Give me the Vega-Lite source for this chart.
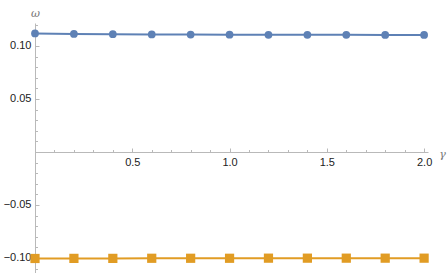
{
  "$schema": "https://vega.github.io/schema/vega-lite/v6.json",
  "width": 393,
  "height": 250,
  "autosize": {"type": "none"},
  "padding": {"left": 35, "top": 23, "right": 20, "bottom": 0},
  "background": "white",
  "config": {
    "view": {"stroke": null},
    "axis": {"labelFont": "Liberation Sans", "labelFontSize": 11, "labelColor": "#222", "domainColor": "#b9b9b9", "tickColor": "#b9b9b9", "grid": false, "titleFont": "DejaVu Serif", "titleFontStyle": "italic", "titleFontWeight": "normal", "titleColor": "#777", "titleFontSize": 11}
  },
  "data": {
    "values": [
      {"g": 0.0, "w": 0.1118, "s": "a"},
      {"g": 0.2, "w": 0.1114, "s": "a"},
      {"g": 0.4, "w": 0.1111, "s": "a"},
      {"g": 0.6, "w": 0.1109, "s": "a"},
      {"g": 0.8, "w": 0.1108, "s": "a"},
      {"g": 1.0, "w": 0.1107, "s": "a"},
      {"g": 1.2, "w": 0.1106, "s": "a"},
      {"g": 1.4, "w": 0.1105, "s": "a"},
      {"g": 1.6, "w": 0.1105, "s": "a"},
      {"g": 1.8, "w": 0.1104, "s": "a"},
      {"g": 2.0, "w": 0.1104, "s": "a"},
      {"g": 0.0, "w": -0.1005, "s": "b"},
      {"g": 0.2, "w": -0.1004, "s": "b"},
      {"g": 0.4, "w": -0.1004, "s": "b"},
      {"g": 0.6, "w": -0.1003, "s": "b"},
      {"g": 0.8, "w": -0.1003, "s": "b"},
      {"g": 1.0, "w": -0.1003, "s": "b"},
      {"g": 1.2, "w": -0.1002, "s": "b"},
      {"g": 1.4, "w": -0.1002, "s": "b"},
      {"g": 1.6, "w": -0.1002, "s": "b"},
      {"g": 1.8, "w": -0.1002, "s": "b"},
      {"g": 2.0, "w": -0.1002, "s": "b"}
    ]
  },
  "resolve": {"axis": {"x": "independent", "y": "independent"}},
  "layer": [
    {
      "mark": {"type": "line", "strokeWidth": 2},
      "encoding": {
        "x": {"field": "g", "type": "quantitative", "scale": {"domain": [0, 2.02], "nice": false, "zero": false},
          "axis": {"orient": "bottom", "offset": -121, "values": [0.5, 1, 1.5, 2], "format": ".1f", "tickSize": -4, "labelPadding": 8, "title": "γ", "titleAngle": 0, "titleX": 407, "titleY": 2, "titleAlign": "center", "titleBaseline": "middle"}},
        "y": {"field": "w", "type": "quantitative", "scale": {"domain": [-0.1142, 0.1217], "nice": false, "zero": false},
          "axis": {"orient": "left", "values": [-0.1, -0.05, 0.05, 0.1], "format": ".2f", "tickSize": -4, "labelPadding": 8, "title": "ω", "titleAngle": 0, "titleX": 0, "titleY": -10, "titleAlign": "center", "titleBaseline": "middle"}},
        "color": {"field": "s", "type": "nominal", "scale": {"domain": ["a", "b"], "range": ["#5E81B5", "#E19C24"]}, "legend": null}
      }
    },
    {
      "mark": {"type": "point", "filled": true, "opacity": 1},
      "encoding": {
        "x": {"field": "g", "type": "quantitative",
          "axis": {"orient": "bottom", "offset": -121, "values": [0.1, 0.2, 0.3, 0.4, 0.6, 0.7, 0.8, 0.9, 1.1, 1.2, 1.3, 1.4, 1.6, 1.7, 1.8, 1.9], "labels": false, "tickSize": -2.5, "domain": false, "title": null}},
        "y": {"field": "w", "type": "quantitative",
          "axis": {"orient": "left", "values": [-0.11, -0.09, -0.08, -0.07, -0.06, -0.04, -0.03, -0.02, -0.01, 0.01, 0.02, 0.03, 0.04, 0.06, 0.07, 0.08, 0.09, 0.11, 0.12], "labels": false, "tickSize": -2.5, "domain": false, "title": null}},
        "color": {"field": "s", "type": "nominal", "legend": null},
        "shape": {"field": "s", "type": "nominal", "scale": {"domain": ["a", "b"], "range": ["circle", "square"]}, "legend": null},
        "size": {"field": "s", "type": "nominal", "scale": {"domain": ["a", "b"], "range": [60, 85]}, "legend": null}
      }
    }
  ]
}
